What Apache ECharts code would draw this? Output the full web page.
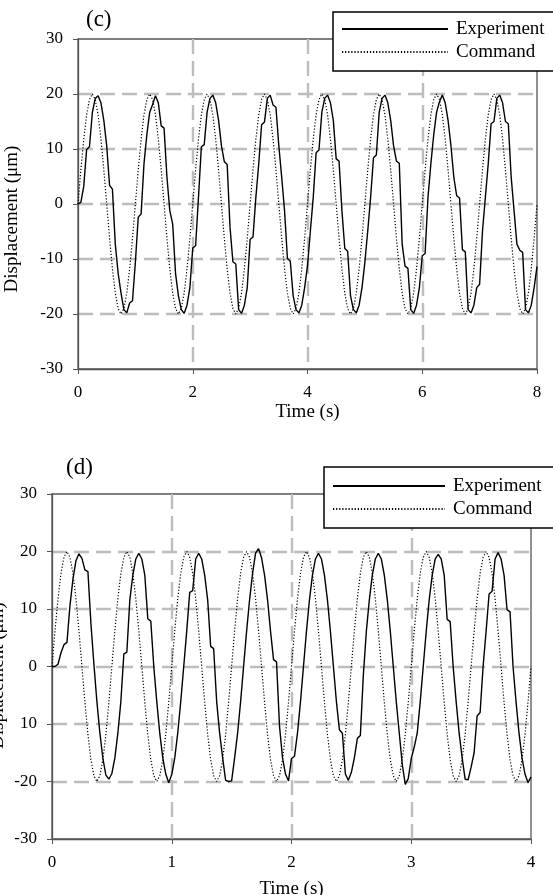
<!DOCTYPE html>
<html>
<head>
<meta charset="utf-8">
<script src="https://cdn.jsdelivr.net/npm/echarts@6/dist/echarts.min.js"></script>
<style>
  html, body { margin: 0; padding: 0; background: #fff; }
  #chart { width: 553px; height: 895px; }
</style>
</head>
<body>
<div id="chart"></div>
<script>
// ---- data ----
// panel (c): 0..8 s, one sample every 0.05 s
const dtC = 0.05;
const commandC = [
  0, 6.2, 11.8, 16.2, 19.0, 20, 19.0, 16.2, 11.8, 6.2, 0, -6.2, -11.8, -16.2, -19.0, -20, -19.0, -16.2, -11.8, -6.2,
  0, 6.2, 11.8, 16.2, 19.0, 20, 19.0, 16.2, 11.8, 6.2, 0, -6.2, -11.8, -16.2, -19.0, -20, -19.0, -16.2, -11.8, -6.2,
  0, 6.2, 11.8, 16.2, 19.0, 20, 19.0, 16.2, 11.8, 6.2, 0, -6.2, -11.8, -16.2, -19.0, -20, -19.0, -16.2, -11.8, -6.2,
  0, 6.2, 11.8, 16.2, 19.0, 20, 19.0, 16.2, 11.8, 6.2, 0, -6.2, -11.8, -16.2, -19.0, -20, -19.0, -16.2, -11.8, -6.2,
  0, 6.2, 11.8, 16.2, 19.0, 20, 19.0, 16.2, 11.8, 6.2, 0, -6.2, -11.8, -16.2, -19.0, -20, -19.0, -16.2, -11.8, -6.2,
  0, 6.2, 11.8, 16.2, 19.0, 20, 19.0, 16.2, 11.8, 6.2, 0, -6.2, -11.8, -16.2, -19.0, -20, -19.0, -16.2, -11.8, -6.2,
  0, 6.2, 11.8, 16.2, 19.0, 20, 19.0, 16.2, 11.8, 6.2, 0, -6.2, -11.8, -16.2, -19.0, -20, -19.0, -16.2, -11.8, -6.2,
  0, 6.2, 11.8, 16.2, 19.0, 20, 19.0, 16.2, 11.8, 6.2, 0, -6.2, -11.8, -16.2, -19.0, -20, -19.0, -16.2, -11.8, -6.2,
  0
];
const experimentC = [
  0, 0.3, 3.2, 9.9, 10.4, 16.6, 19.2, 19.7, 18.4, 15.2, 10.6, 3.4, 2.7, -7.3, -12.6, -16.2, -19.2, -19.8, -18.0, -17.6,
  -10.6, -2.4, -1.8, 7.3, 12.6, 16.7, 18.1, 19.7, 18.4, 14.2, 13.8, 4.9, -1.2, -3.6, -12.6, -16.7, -19.2, -19.9, -18.4, -15.2,
  -8.0, -7.6, 1.2, 10.4, 10.8, 16.7, 19.2, 19.8, 18.4, 15.2, 10.6, 7.7, 7.2, -4.3, -10.5, -10.9, -19.2, -19.9, -18.4, -15.2,
  -6.4, -6.0, 1.2, 7.3, 14.4, 14.9, 19.2, 19.8, 18.0, 17.6, 10.6, 4.9, -1.2, -9.9, -10.4, -16.7, -19.2, -19.8, -18.4, -15.2,
  -11.2, -4.9, 1.2, 9.3, 9.8, 16.7, 19.2, 19.8, 18.4, 15.2, 8.2, 7.8, -1.2, -8.1, -8.6, -16.7, -19.2, -19.8, -18.4, -15.2,
  -10.6, -4.9, 1.2, 8.4, 8.9, 16.7, 19.2, 19.8, 18.4, 15.2, 10.6, 7.8, 7.4, -7.3, -11.3, -11.7, -19.2, -19.9, -18.4, -15.2,
  -9.4, -9.0, 1.2, 7.3, 12.6, 16.7, 18.6, 19.8, 18.4, 15.2, 10.6, 4.9, 1.5, 1.1, -8.3, -8.7, -19.2, -19.8, -18.4, -15.2,
  -14.6, -4.9, 1.2, 7.3, 14.6, 15.0, 19.2, 19.8, 18.4, 15.0, 14.6, 4.9, -1.2, -7.3, -8.4, -8.8, -19.2, -19.8, -18.4, -15.2,
  -11.4
];

// panel (d): 0..4 s, one sample every 0.025 s
const dtD = 0.025;
const commandD = [
  0, 6.2, 11.8, 16.2, 19.0, 20, 19.0, 16.2, 11.8, 6.2, 0, -6.2, -11.8, -16.2, -19.0, -20, -19.0, -16.2, -11.8, -6.2,
  0, 6.2, 11.8, 16.2, 19.0, 20, 19.0, 16.2, 11.8, 6.2, 0, -6.2, -11.8, -16.2, -19.0, -20, -19.0, -16.2, -11.8, -6.2,
  0, 6.2, 11.8, 16.2, 19.0, 20, 19.0, 16.2, 11.8, 6.2, 0, -6.2, -11.8, -16.2, -19.0, -20, -19.0, -16.2, -11.8, -6.2,
  0, 6.2, 11.8, 16.2, 19.0, 20, 19.0, 16.2, 11.8, 6.2, 0, -6.2, -11.8, -16.2, -19.0, -20, -19.0, -16.2, -11.8, -6.2,
  0, 6.2, 11.8, 16.2, 19.0, 20, 19.0, 16.2, 11.8, 6.2, 0, -6.2, -11.8, -16.2, -19.0, -20, -19.0, -16.2, -11.8, -6.2,
  0, 6.2, 11.8, 16.2, 19.0, 20, 19.0, 16.2, 11.8, 6.2, 0, -6.2, -11.8, -16.2, -19.0, -20, -19.0, -16.2, -11.8, -6.2,
  0, 6.2, 11.8, 16.2, 19.0, 20, 19.0, 16.2, 11.8, 6.2, 0, -6.2, -11.8, -16.2, -19.0, -20, -19.0, -16.2, -11.8, -6.2,
  0, 6.2, 11.8, 16.2, 19.0, 20, 19.0, 16.2, 11.8, 6.2, 0, -6.2, -11.8, -16.2, -19.0, -20, -19.0, -16.2, -11.8, -6.2,
  0
];
const experimentD = [
  0, 0, 0.4, 2.4, 3.8, 4.2, 10.6, 15.2, 18.4, 19.6, 18.8, 16.8, 16.5, 7.5, 0.4, -6.1, -11.6, -16.0, -18.9, -19.6,
  -18.6, -15.9, -11.6, -6.1, 2.2, 2.5, 11.6, 15.9, 18.7, 19.7, 18.7, 15.9, 8.3, 7.9, 0, -6.1, -11.6, -15.9, -18.7, -20.2,
  -18.8, -15.9, -11.6, -6.1, 0, 6.1, 12.9, 13.2, 18.7, 19.7, 18.7, 15.9, 11.6, 3.5, 3.1, -6.1, -11.6, -15.9, -19.8, -20.0,
  -19.9, -15.9, -11.6, -6.1, 0, 6.1, 11.6, 16.2, 19.7, 20.5, 18.9, 15.9, 11.6, 6.1, 1.2, 0.8, -10.4, -15.9, -18.7, -19.9,
  -16.0, -15.6, -11.6, -6.1, 0, 6.1, 11.6, 15.9, 18.7, 19.7, 18.7, 15.9, 11.6, 6.1, 0, -6.1, -11.0, -11.6, -18.7, -19.8,
  -18.4, -15.9, -12.5, -12.0, -1.5, 6.1, 11.6, 15.9, 18.7, 19.7, 18.7, 15.9, 11.6, 6.1, 0, -6.1, -11.6, -17.0, -20.5, -19.5,
  -16.0, -14.0, -11.6, -6.1, 0, 6.1, 11.6, 15.9, 18.7, 19.5, 18.7, 15.9, 8.2, 7.8, 0, -6.1, -11.6, -15.9, -19.6, -19.7,
  -17.5, -15.0, -8.6, -8.0, 0, 6.1, 12.6, 13.1, 18.7, 19.8, 18.7, 15.9, 9.9, 9.5, 0, -6.1, -11.6, -15.9, -18.7, -20.2,
  -19.2
];

// tick labels
const yTickValues = [-30, -20, -10, 0, 10, 20, 30];
const yLabelsC = ['-30', '-20', '-10', '0', '10', '20', '30'];
const yLabelsD = ['-30', '-20', '10', '0', '10', '20', '30']; // minus lost in the original

const seriesNames = ['Experiment', 'Command'];
const panelTitles = ['(c)', '(d)'];

// ---- chart ----
const chart = echarts.init(document.getElementById('chart'));
const serif = '"Liberation Serif", "Times New Roman", serif';

const toPairs = (vals, dt) => vals.map((v, i) => [+(i * dt).toFixed(4), v]);

const gridLine = {
  show: true,
  showMinLine: false,
  showMaxLine: false,
  lineStyle: { color: '#bdbdbd', width: 2.4, type: [15, 7] }
};

function xAxisFor(gridIndex, max, interval, nameGap) {
  return {
    type: 'value', gridIndex, min: 0, max, interval,
    name: 'Time (s)', nameLocation: 'middle', nameGap, nameMoveOverlap: false,
    nameTextStyle: { fontFamily: serif, fontSize: 19, color: '#000' },
    axisLine: { show: true, onZero: false, lineStyle: { color: '#555', width: 1.3 } },
    axisTick: { show: true, inside: false, length: 5, lineStyle: { color: '#555' } },
    axisLabel: { margin: 15, fontFamily: serif, fontSize: 17, color: '#000' },
    splitLine: gridLine
  };
}

function yAxisFor(gridIndex, labels, nameGap, shift) {
  return {
    type: 'value', gridIndex, min: -30, max: 30, interval: 10,
    name: 'Displacement (\u03bcm)', nameLocation: 'middle', nameGap, nameMoveOverlap: false,
    nameTextStyle: { fontFamily: serif, fontSize: 19, color: '#000', padding: [0, shift, 0, 0] },
    axisLine: { show: true, onZero: false, lineStyle: { color: '#555', width: 1.3 } },
    axisTick: { show: true, inside: false, length: 5, lineStyle: { color: '#555' } },
    axisLabel: {
      margin: 15, fontFamily: serif, fontSize: 17, color: '#000',
      formatter: (val) => labels[yTickValues.indexOf(val)]
    },
    splitLine: gridLine
  };
}

function legendFor(left, top, itemWidth, padding) {
  return {
    orient: 'vertical',
    left, top,
    data: seriesNames,
    itemWidth, itemHeight: 14, itemGap: 3,
    padding,
    backgroundColor: '#fff',
    borderColor: '#000', borderWidth: 1.5,
    selectedMode: false,
    itemStyle: { color: 'rgba(0,0,0,0)', borderColor: 'rgba(0,0,0,0)', borderWidth: 0 },
    textStyle: { fontFamily: serif, fontSize: 19, color: '#000', lineHeight: 20, padding: [0, 0, 0, 3] }
  };
}

const solid = { color: '#000', width: 1.4, type: 'solid' };
const dotted = { color: '#000', width: 1.2, type: [1.2, 1.9] };

const gridBase = { show: true, borderColor: '#555', borderWidth: 1.3, backgroundColor: 'transparent', containLabel: false, outerBoundsMode: 'none' };

const option = {
  backgroundColor: '#fff',
  animation: false,
  title: [
    { text: panelTitles[0], left: 86, top: 8, textStyle: { fontFamily: serif, fontSize: 23, fontWeight: 'normal', color: '#000' }, padding: 0 },
    { text: panelTitles[1], left: 66, top: 456, textStyle: { fontFamily: serif, fontSize: 23, fontWeight: 'normal', color: '#000' }, padding: 0 }
  ],
  legend: [
    legendFor(333, 12, 106, [7, 20, 9, 8]),
    legendFor(324, 467, 112, [9, 20, 9, 8])
  ],
  grid: [
    Object.assign({ left: 78, top: 39, width: 459, height: 330 }, gridBase),
    Object.assign({ left: 52, top: 494, width: 479, height: 345 }, gridBase)
  ],
  xAxis: [
    xAxisFor(0, 8, 2, 34),
    xAxisFor(1, 4, 1, 41)
  ],
  yAxis: [
    yAxisFor(0, yLabelsC, 56, 30),
    yAxisFor(1, yLabelsD, 44, 18)
  ],
  series: [
    { name: seriesNames[1], type: 'line', xAxisIndex: 0, yAxisIndex: 0, symbol: 'none', showSymbol: false, lineStyle: dotted, itemStyle: { color: '#000' }, data: toPairs(commandC, dtC), z: 3 },
    { name: seriesNames[0], type: 'line', xAxisIndex: 0, yAxisIndex: 0, symbol: 'none', showSymbol: false, lineStyle: solid, itemStyle: { color: '#000' }, data: toPairs(experimentC, dtC), z: 4 },
    { name: seriesNames[1], type: 'line', xAxisIndex: 1, yAxisIndex: 1, symbol: 'none', showSymbol: false, lineStyle: dotted, itemStyle: { color: '#000' }, data: toPairs(commandD, dtD), z: 3 },
    { name: seriesNames[0], type: 'line', xAxisIndex: 1, yAxisIndex: 1, symbol: 'none', showSymbol: false, lineStyle: solid, itemStyle: { color: '#000' }, data: toPairs(experimentD, dtD), z: 4 }
  ]
};

chart.setOption(option);
</script>
</body>
</html>
